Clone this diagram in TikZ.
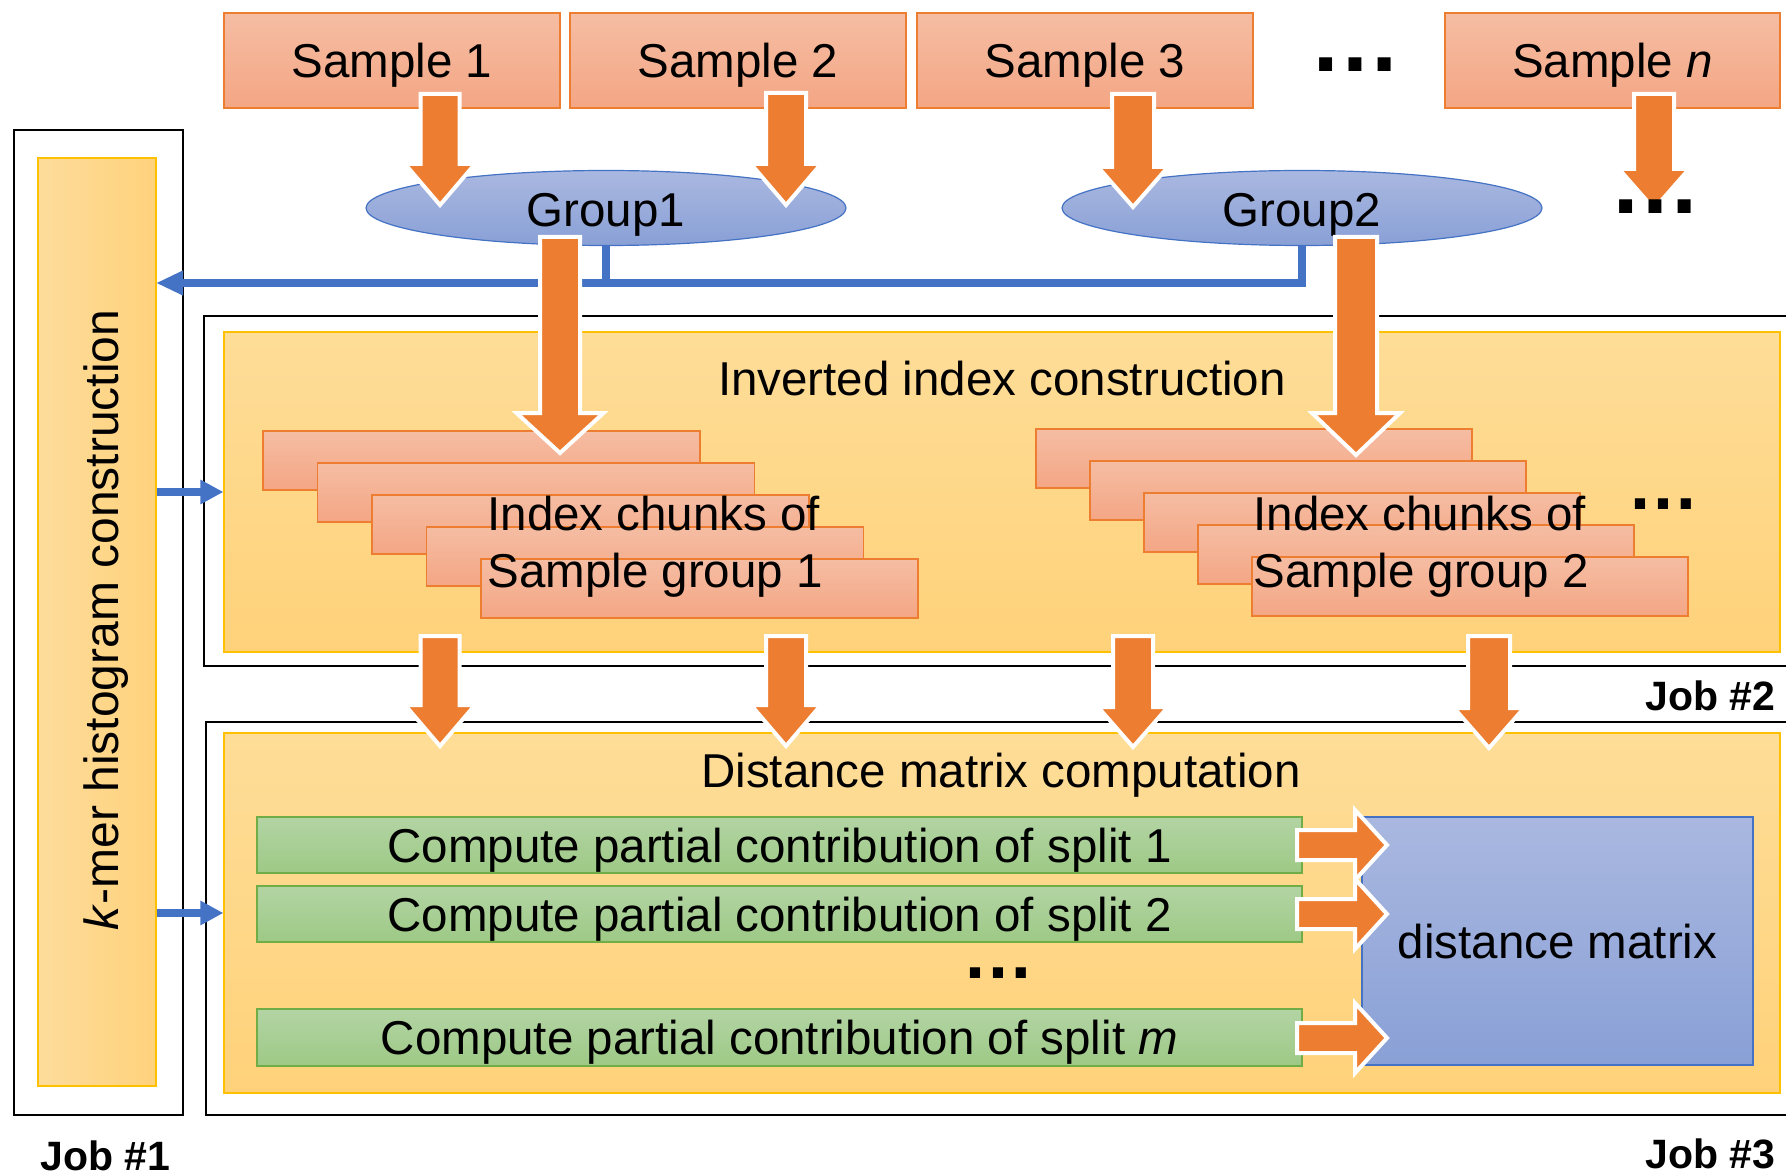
\documentclass[tikz,border=0pt]{standalone}
\usepackage{fontspec}
\setmainfont{Liberation Sans}
\usetikzlibrary{shapes.geometric,arrows.meta,fit}
\definecolor{orA}{HTML}{ED7D31}
\definecolor{blA}{HTML}{4472C4}
\definecolor{ylA}{HTML}{FFC000}
\definecolor{grA}{HTML}{70AD47}
\definecolor{sTop}{RGB}{245,189,163}
\definecolor{sBot}{RGB}{244,166,132}
\definecolor{eTop}{RGB}{170,184,224}
\definecolor{eBot}{RGB}{137,160,214}
\definecolor{yTop}{RGB}{254,221,152}
\definecolor{yBot}{RGB}{255,210,122}
\definecolor{kLeft}{RGB}{253,220,155}
\definecolor{kRight}{RGB}{255,210,124}
\definecolor{gTop}{RGB}{179,212,164}
\definecolor{gBot}{RGB}{157,201,133}
\newcommand{\bodyfont}{\fontsize{23.75}{28.5}\selectfont}
\newcommand{\fatdown}[6]{%
  \filldraw[fatarrow] (#1-#5,#2) -- (#1+#5,#2) -- (#1+#5,#3) -- (#1+#6,#3) -- (#1,#4) -- (#1-#6,#3) -- (#1-#5,#3) -- cycle;}
\newcommand{\fatright}[6]{%
  \filldraw[fatarrow] (#1,#4-#5) -- (#2,#4-#5) -- (#2,#4-#6) -- (#3,#4) -- (#2,#4+#6) -- (#2,#4+#5) -- (#1,#4+#5) -- cycle;}
\tikzset{
  jobline/.style={draw=black, line width=0.9pt},
  sbox/.style={draw=orA, line width=0.6pt, top color=sTop, bottom color=sBot, inner sep=0pt},
  ybox/.style={draw=ylA, line width=0.6pt, top color=yTop, bottom color=yBot, inner sep=0pt},
  kbox/.style={draw=ylA, line width=0.6pt, left color=kLeft, right color=kRight, inner sep=0pt},
  gbox/.style={draw=grA, line width=0.6pt, top color=gTop, bottom color=gBot, inner sep=0pt},
  mbox/.style={draw=blA, line width=0.6pt, top color=eTop, bottom color=eBot, inner sep=0pt},
  grp/.style={ellipse, draw=blA, line width=0.6pt, top color=eTop, bottom color=eBot, inner sep=0pt, minimum width=240pt, minimum height=37.5pt},
  boxtext/.style={inner sep=0pt, text depth=0pt, anchor=center},
  fatarrow/.style={fill=orA, draw=white, line width=2pt, line join=miter},
  busline/.style={draw=blA, line width=4pt, -{Triangle[length=13.5pt,width=11.5pt]}},
  busplain/.style={draw=blA, line width=4pt},
  feed/.style={draw=blA, line width=4pt, -{Triangle[length=11.5pt,width=11.5pt]}},
  joblabel/.style={font=\fontsize{20.5}{24}\selectfont\bfseries, inner sep=0pt},
  dotsbig/.style={font=\fontsize{46}{50}\selectfont\bfseries, inner sep=0pt},
  dotssmall/.style={font=\fontsize{36}{40}\selectfont\bfseries, inner sep=0pt},
  plain/.style={inner sep=0pt}
}
\begin{document}
\begin{tikzpicture}[x=0.5pt,y=-0.5pt, every node/.style={font=\bodyfont}]
\useasboundingbox (0,0) rectangle (1786,1176);

% job frames
\draw[jobline] (14,130) rectangle (183,1115);
\draw[jobline] (1800,316) -- (204,316) -- (204,666) -- (1800,666);
\draw[jobline] (1800,722) -- (206,722) -- (206,1115) -- (1800,1115);

% big yellow stages
\node[ybox, fit={(224,332) (1780,652)}] (inv) {};
\node[ybox, fit={(224,733) (1780,1093)}] (dst) {};
\node[kbox, fit={(38,158) (156,1086)}] (kmer) {};

% samples
\node[sbox, fit={(224,13) (560,108)}] (s1) {};
\node[sbox, fit={(570,13) (906,108)}] (s2) {};
\node[sbox, fit={(917,13) (1253,108)}] (s3) {};
\node[sbox, fit={(1445,13) (1780,108)}] (sn) {};
\node[boxtext] (s1t) at (s1.center) {Sample 1};
\node[boxtext] (s2t) at (s2.center) {Sample 2};
\node[boxtext] (s3t) at (s3.center) {Sample 3};
\node[boxtext] (snt) at (sn.center) {Sample \textit{n}};

% groups
\node[grp] (g1) at (606,208) {};
\node[grp] (g2) at (1302,208) {};
\node[boxtext] (g1t) at ([yshift=-1pt]g1.center) {Group1};
\node[boxtext] (g2t) at ([yshift=-1pt]g2.center) {Group2};

% blue connectors
\coordinate (kin) at (156,283);
\draw[busline] (g2.south) |- (kin);
\draw[busplain] (g1.south) -- (g1.south |- kin);
\draw[feed] (kmer.east |- inv.west) -- (inv.west);
\draw[feed] (kmer.east |- dst.west) -- (dst.west);

% index chunks
\foreach \i in {0,...,4}{
  \node[sbox, fit={(263+54.5*\i,431+32*\i) (700+54.5*\i,490+32*\i)}] (ca\i) {};
  \node[sbox, fit={(1036+54*\i,429+32*\i) (1472+54*\i,488+32*\i)}] (cb\i) {};
}

% green splits and distance matrix
\node[gbox, fit={(257,817) (1302,873)}] (p1) {};
\node[gbox, fit={(257,886) (1302,942)}] (p2) {};
\node[gbox, fit={(257,1009) (1302,1066)}] (pm) {};
\node[mbox, fit={(1362,817) (1753,1065)}] (dm) {};
\node[boxtext] (p1t) at (p1.center) {Compute partial contribution of split 1};
\node[boxtext] (p2t) at (p2.center) {Compute partial contribution of split 2};
\node[boxtext] (pmt) at (pm.center) {Compute partial contribution of split \textit{m}};
\node[boxtext] (dmt) at (dm.center) {distance matrix};

% orange block arrows
\fatdown{440}{94}{164}{205}{19.5}{35}
\fatdown{786}{93}{164}{205}{20}{35}
\fatdown{1133}{94}{167}{207}{21}{35}
\fatdown{1654}{94}{169}{209}{20}{35}
\fatdown{560}{237}{413}{453}{20}{43.5}
\fatdown{1356}{237}{413}{455}{21}{44}
\fatdown{440}{636}{705}{746}{19.5}{35}
\fatdown{786}{636}{705}{746}{20}{35}
\fatdown{1133}{636}{707}{747}{20}{35}
\fatdown{1489}{636}{708}{748}{21}{35}
\fatright{1297}{1355}{1387}{845}{15}{35}
\fatright{1297}{1355}{1387}{914}{15}{35}
\fatright{1297}{1355}{1387}{1038}{15}{35}

% texts
\node[plain, anchor=base] (invt) at (1002,395) {Inverted index construction};
\node[plain, anchor=base] (dstt) at (1001,787) {Distance matrix computation};
\node[plain, anchor=base west] (ta1) at (487,530) {Index chunks of};
\node[plain, anchor=base west] (ta2) at (487,587) {Sample group 1};
\node[plain, anchor=base west] (tb1) at (1253,530) {Index chunks of};
\node[plain, anchor=base west] (tb2) at (1253,587) {Sample group 2};
\node[plain, rotate=90, anchor=base, font=\fontsize{24}{28}\selectfont] (kt) at (118,620) {\textit{k}-mer histogram construction};

\node[joblabel, anchor=base west] (j1) at (40,1170) {Job \#1};
\node[joblabel, anchor=base east] (j2) at (1776,710) {Job \#2};
\node[joblabel, anchor=base east] (j3) at (1776,1168) {Job \#3};

\node[dotsbig] (d1) at (1355,64.5) {…};
\node[dotsbig] (d2) at (1655,207) {…};
\node[dotssmall] (d3) at (1663,504) {…};
\node[dotssmall] (d4) at (998,973) {…};
\end{tikzpicture}
\end{document}
